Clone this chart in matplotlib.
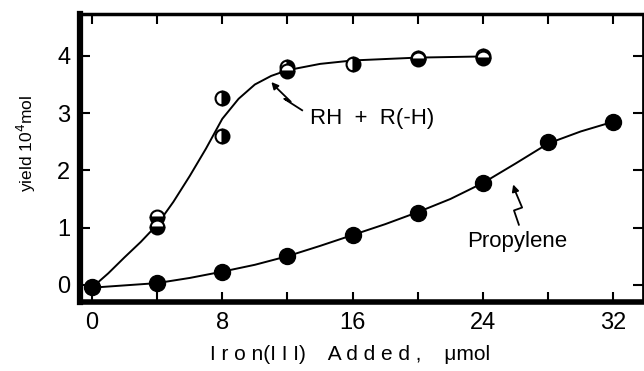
import numpy as np
import matplotlib.pyplot as plt

# data
rh_x = [0, 4, 4, 8, 8, 12, 12, 16, 20, 20, 24, 24]
rh_y = [-0.03, 1.19, 1.01, 3.26, 2.6, 3.8, 3.73, 3.86, 3.97, 3.94, 4.0, 3.97]
rh_fill = ['full', 'bottom', 'bottom', 'right', 'right', 'right', 'bottom',
           'right', 'right', 'bottom', 'right', 'bottom']

rh_fit_x = [0, 1, 2, 3, 4, 5, 6, 7, 8, 9, 10, 11, 12, 14, 16, 20, 24]
rh_fit_y = [-0.05, 0.2, 0.48, 0.75, 1.05, 1.45, 1.9, 2.38, 2.9, 3.25, 3.5,
            3.65, 3.75, 3.86, 3.92, 3.97, 3.99]

pro_x = [0, 4, 8, 12, 16, 20, 24, 28, 32]
pro_y = [-0.03, 0.03, 0.23, 0.5, 0.87, 1.26, 1.78, 2.49, 2.85]

pro_fit_x = [0, 2, 4, 6, 8, 10, 12, 14, 16, 18, 20, 22, 24, 26, 28, 30, 32]
pro_fit_y = [-0.05, -0.01, 0.03, 0.12, 0.23, 0.35, 0.5, 0.68, 0.87, 1.06,
             1.27, 1.5, 1.78, 2.12, 2.47, 2.68, 2.85]

x_ticks = [0, 8, 16, 24, 32]
x_minor = [4, 12, 20, 28]
y_ticks = [0, 1, 2, 3, 4]

plt.rcParams['font.family'] = ['Liberation Sans', 'DejaVu Sans']

fig = plt.figure(figsize=(6.44, 3.71), dpi=100)
ax = fig.add_axes([0.124, 0.186, 0.874, 0.776])

ax.plot(rh_fit_x, rh_fit_y, color='black', lw=1.4)
ax.plot(pro_fit_x, pro_fit_y, color='black', lw=1.4)

ax.plot(pro_x, pro_y, 'o', color='black', ms=11.5, mec='black')
for x, y, f in zip(rh_x, rh_y, rh_fill):
    ax.plot(x, y, 'o', color='black', ms=10, mfc='black', mec='black',
            mew=1.5, fillstyle=f, markerfacecoloralt='white')

# labels with squiggly arrows
ax.text(13.4, 2.91, 'RH  +  R(-H)', fontsize=16, va='center', ha='left')
ax.plot([12.9, 11.8, 12.2, 11.3], [3.05, 3.25, 3.2, 3.45], color='black', lw=1.3)
ax.annotate('', xy=(10.9, 3.58), xytext=(11.3, 3.45),
            arrowprops=dict(arrowstyle='-|>', color='black', lw=1.3))

ax.text(26.1, 0.75, 'Propylene', fontsize=16, va='center', ha='center')
ax.plot([26.2, 25.9, 26.4, 26.0], [1.05, 1.3, 1.35, 1.62], color='black', lw=1.3)
ax.annotate('', xy=(25.8, 1.8), xytext=(26.0, 1.62),
            arrowprops=dict(arrowstyle='-|>', color='black', lw=1.3))

ax.set_xlim(-0.74, 33.8)
ax.set_ylim(-0.3, 4.73)
ax.set_xticks(x_ticks)
ax.set_xticks(x_minor, minor=True)
ax.set_yticks(y_ticks)
ax.tick_params(which='both', direction='in', top=True, right=True,
               length=7, width=1.5, labelsize=17, pad=7)

ax.spines['left'].set_linewidth(4.5)
ax.spines['bottom'].set_linewidth(4)
ax.spines['top'].set_linewidth(2.5)
ax.spines['right'].set_linewidth(2)

ax.set_xlabel('I r o n(I I I)    A d d e d ,    \u03bcmol', fontsize=15)
ax.xaxis.set_label_coords(0.48, -0.15)
ax.set_ylabel('yield 10$^4$mol', fontsize=12.5)
ax.yaxis.set_label_coords(-0.074, 0.55)

plt.savefig('out.png', dpi=100)
